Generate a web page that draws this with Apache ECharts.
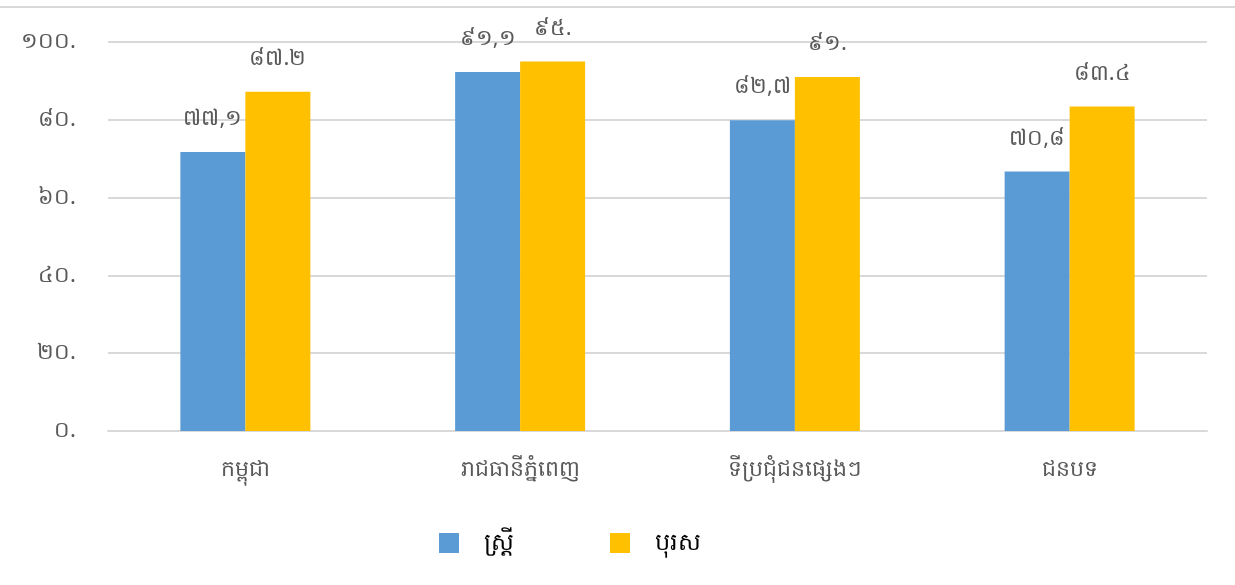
<!DOCTYPE html>
<html>
<head>
<meta charset="utf-8">
<script src="https://cdn.jsdelivr.net/npm/echarts@6/dist/echarts.min.js"></script>
<style>
  html, body { margin: 0; padding: 0; background: #fff; }
  #chart { width: 1235px; height: 585px; }
</style>
</head>
<body>
<div id="chart"></div>
<script>
const categories = ['កម្ពុជា', 'រាជធានីភ្នំពេញ', 'ទីប្រជុំជនផ្សេងៗ', 'ជនបទ'];
const seriesNames = ['ស្ត្រី', 'បុរស'];
// bar heights as drawn
const womenValues = [71.7, 92.3, 79.9, 66.7];
const menValues = [87.2, 95.0, 91.0, 83.4];
// label text as printed on the chart
const womenLabels = ['៧៧,១', '៩១,១', '៨២,៧', '៧០,៨'];
const menLabels = ['៨៧.២', '៩៥.', '៩១.', '៨៣.៤'];
const yTicks = [0, 20, 40, 60, 80, 100];

const khmerDigits = '០១២៣៤៥៦៧៨៩';
function toKhmer(n) {
  return String(n).replace(/[0-9]/g, d => khmerDigits[+d]);
}

const font = '"Noto Sans", sans-serif';
const myChart = echarts.init(document.getElementById('chart'));

const option = {
  animation: false,
  textStyle: { fontFamily: font },
  graphic: [
    {
      type: 'line',
      shape: { x1: 0, y1: 7, x2: 1235, y2: 7 },
      style: { stroke: '#d9d9d9', lineWidth: 2 }
    }
  ],
  legend: {
    data: seriesNames,
    top: 526,
    left: 434,
    itemWidth: 20,
    itemHeight: 20,
    itemGap: 96,
    icon: 'rect',
    textStyle: { color: '#000', fontSize: 24, fontFamily: font, padding: [0, 0, 0, 20] }
  },
  grid: { left: 108, right: 28, top: 42, bottom: 154 },
  xAxis: {
    type: 'category',
    data: categories,
    axisLine: { lineStyle: { color: '#d9d9d9', width: 2 } },
    axisTick: { show: false },
    axisLabel: { color: '#595959', fontSize: 22, margin: 28 }
  },
  yAxis: {
    type: 'value',
    min: yTicks[0],
    max: yTicks[yTicks.length - 1],
    interval: 20,
    axisLine: { show: false },
    axisTick: { show: false },
    splitLine: { lineStyle: { color: '#d9d9d9', width: 2 } },
    axisLabel: {
      color: '#595959',
      fontSize: 22,
      margin: 32,
      formatter: v => toKhmer(v) + '.'
    }
  },
  series: [
    {
      name: seriesNames[0],
      type: 'bar',
      barWidth: 65,
      barGap: '0%',
      itemStyle: { color: '#5b9bd5' },
      label: {
        show: true,
        position: 'top',
        distance: 22,
        color: '#595959',
        fontSize: 22,
        formatter: p => womenLabels[p.dataIndex]
      },
      data: womenValues
    },
    {
      name: seriesNames[1],
      type: 'bar',
      barWidth: 65,
      barGap: '0%',
      itemStyle: { color: '#ffc000' },
      label: {
        show: true,
        position: 'top',
        distance: 22,
        color: '#595959',
        fontSize: 22,
        formatter: p => menLabels[p.dataIndex]
      },
      data: menValues
    }
  ]
};
myChart.setOption(option);
</script>
</body>
</html>
